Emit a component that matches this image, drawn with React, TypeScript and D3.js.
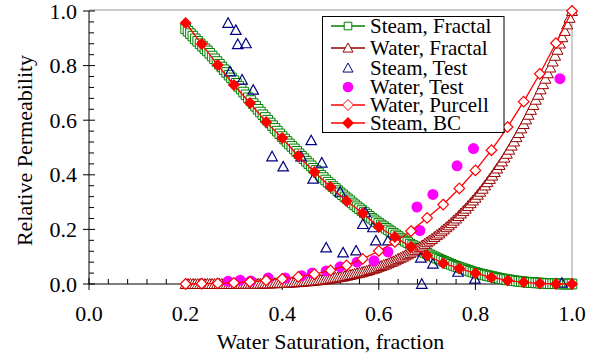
import React from 'react';
import * as d3 from 'd3';

const W = 597;
const H = 357;
const FONT = "'Liberation Serif', 'Times New Roman', serif";

// model curves: water saturation grid 0.2 .. 1.0 every 0.005
const fractalSw = d3.range(161).map(i => 0.2 + i * 0.005);
const steamFractal = [
  0.935, 0.926, 0.917, 0.908, 0.898, 0.889, 0.880, 0.871, 0.862, 0.854,
  0.845, 0.835, 0.825, 0.815, 0.805, 0.795, 0.785, 0.775, 0.765, 0.755,
  0.745, 0.735, 0.724, 0.714, 0.703, 0.693, 0.682, 0.672, 0.661, 0.651,
  0.640, 0.630, 0.620, 0.610, 0.600, 0.590, 0.580, 0.570, 0.560, 0.550,
  0.540, 0.531, 0.522, 0.513, 0.504, 0.495, 0.486, 0.477, 0.468, 0.459,
  0.450, 0.441, 0.433, 0.424, 0.416, 0.407, 0.398, 0.390, 0.381, 0.373,
  0.365, 0.357, 0.350, 0.342, 0.334, 0.327, 0.319, 0.312, 0.305, 0.297,
  0.290, 0.283, 0.276, 0.269, 0.262, 0.255, 0.248, 0.241, 0.235, 0.228,
  0.222, 0.216, 0.210, 0.204, 0.198, 0.192, 0.186, 0.180, 0.174, 0.168,
  0.162, 0.157, 0.152, 0.146, 0.141, 0.136, 0.131, 0.126, 0.121, 0.116,
  0.112, 0.107, 0.103, 0.099, 0.095, 0.091, 0.087, 0.083, 0.079, 0.075,
  0.072, 0.068, 0.065, 0.062, 0.059, 0.056, 0.053, 0.050, 0.047, 0.044,
  0.042, 0.039, 0.037, 0.035, 0.033, 0.031, 0.029, 0.027, 0.025, 0.023,
  0.021, 0.019, 0.018, 0.016, 0.015, 0.013, 0.012, 0.011, 0.010, 0.009,
  0.008, 0.007, 0.006, 0.005, 0.005, 0.004, 0.004, 0.003, 0.003, 0.002,
  0.002, 0.001, 0.001, 0.001, 0.001, 0, 0, 0, 0, 0,
  0,
];
const waterFractal = [
  0, 0, 0, 0, 0, 0, 0, 0, 0, 0,
  0, 0, 0, 0, 0, 0, 0, 0, 0, 0,
  0, 0, 0, 0, 0.001, 0.001, 0.001, 0.001, 0.001, 0.001,
  0.001, 0.001, 0.002, 0.002, 0.002, 0.002, 0.003, 0.003, 0.003, 0.004,
  0.004, 0.004, 0.005, 0.005, 0.006, 0.006, 0.007, 0.007, 0.008, 0.009,
  0.010, 0.010, 0.011, 0.012, 0.013, 0.014, 0.015, 0.016, 0.017, 0.018,
  0.020, 0.021, 0.023, 0.024, 0.026, 0.027, 0.029, 0.031, 0.033, 0.035,
  0.037, 0.039, 0.041, 0.043, 0.046, 0.048, 0.051, 0.054, 0.056, 0.059,
  0.063, 0.066, 0.069, 0.072, 0.076, 0.080, 0.083, 0.087, 0.092, 0.096,
  0.100, 0.105, 0.109, 0.114, 0.119, 0.124, 0.130, 0.135, 0.141, 0.147,
  0.153, 0.159, 0.165, 0.172, 0.179, 0.185, 0.193, 0.200, 0.208, 0.215,
  0.223, 0.232, 0.240, 0.249, 0.258, 0.267, 0.276, 0.286, 0.296, 0.306,
  0.316, 0.327, 0.338, 0.349, 0.361, 0.373, 0.385, 0.397, 0.410, 0.423,
  0.436, 0.449, 0.463, 0.477, 0.492, 0.507, 0.522, 0.538, 0.553, 0.570,
  0.586, 0.603, 0.620, 0.638, 0.656, 0.675, 0.693, 0.713, 0.732, 0.752,
  0.772, 0.793, 0.815, 0.836, 0.858, 0.881, 0.904, 0.927, 0.951, 0.975,
  1.0,
];

// Purcell / Brooks-Corey curves, 1/30 steps
const modelSw = [
  0.2, 0.2333, 0.2667, 0.3, 0.3333, 0.3667, 0.4, 0.4333, 0.4667, 0.5, 0.5333, 0.5667, 0.6,
  0.6333, 0.6667, 0.7, 0.7333, 0.7667, 0.8, 0.8333, 0.8667, 0.9, 0.9333, 0.9667, 1.0,
];
const waterPurcell = [
  0, 0.001, 0.002, 0.004, 0.008, 0.013, 0.019, 0.026, 0.036, 0.050, 0.068, 0.092, 0.121,
  0.154, 0.194, 0.242, 0.291, 0.350, 0.416, 0.490, 0.575, 0.668, 0.770, 0.882, 1.0,
];
const steamBC = [
  0.956, 0.879, 0.802, 0.729, 0.663, 0.593, 0.535, 0.469, 0.410, 0.355, 0.304, 0.259, 0.209,
  0.172, 0.136, 0.104, 0.076, 0.057, 0.039, 0.024, 0.013, 0.006, 0.002, 0, 0,
];

// measured data
const steamTestSw = [
  0.288, 0.304, 0.308, 0.325, 0.292, 0.317, 0.340, 0.379, 0.402, 0.439, 0.460, 0.482, 0.464, 0.520,
  0.491, 0.526, 0.553, 0.572, 0.567, 0.588, 0.594, 0.619, 0.687, 0.712, 0.689, 0.764, 0.799, 0.979,
];
const steamTestKr = [
  0.956, 0.930, 0.878, 0.881, 0.778, 0.748, 0.711, 0.467, 0.430, 0.467, 0.526, 0.444, 0.385, 0.337,
  0.133, 0.115, 0.122, 0.262, 0.219, 0.207, 0.159, 0.159, 0.096, 0.074, 0.0, 0.044, 0.019, 0.004,
];
const waterTestSw = [
  0.288, 0.313, 0.335, 0.371, 0.406, 0.44, 0.462, 0.491, 0.52, 0.555, 0.59, 0.619, 0.685, 0.679,
  0.712, 0.762, 0.796, 0.975,
];
const waterTestKr = [
  0.010, 0.014, 0.011, 0.022, 0.022, 0.030, 0.040, 0.048, 0.063, 0.080, 0.085, 0.118, 0.196, 0.282,
  0.328, 0.433, 0.496, 0.752,
];

const majorTicks = [0, 0.2, 0.4, 0.6, 0.8, 1.0];
const tickLabels = ['0.0', '0.2', '0.4', '0.6', '0.8', '1.0'];
const legendNames = ['Steam, Fractal', 'Water, Fractal', 'Steam, Test', 'Water, Test', 'Water, Purcell', 'Steam, BC'];

const GREEN = '#008000';
const BROWN = '#990000';
const NAVY = '#000080';
const MAGENTA = '#ff00ff';
const RED = '#ff0000';

const x = d3.scaleLinear().domain([0, 1]).range([89, 572]);
const y = d3.scaleLinear().domain([0, 1]).range([284, 11]);

const square = (s: number) => `M${-s},${-s}h${2 * s}v${2 * s}h${-2 * s}Z`;
const triangle = (w: number, h: number) => `M0,${-h * 0.55}L${w / 2},${h * 0.45}L${-w / 2},${h * 0.45}Z`;
const diamond = (r: number) => `M0,${-r}L${r},0L0,${r}L${-r},0Z`;

const curve = (sw: number[], vals: number[]) =>
  d3.line<number>().x((_, i) => x(sw[i])).y(d => y(d))(vals) || '';

export default function App() {
  const minor = d3.range(0, 1.0001, 0.04).filter(v => Math.abs(v / 0.2 - Math.round(v / 0.2)) > 0.01);

  const legendRows = [26, 48, 68, 87, 105, 123];
  const legendSymbol = (i: number) => {
    switch (i) {
      case 0: return <path d={square(3.8)} fill="#fff" stroke={GREEN} />;
      case 1: return <path d={triangle(10, 9)} fill="#fff" stroke={BROWN} />;
      case 2: return <path d={triangle(10, 9)} fill="#fff" stroke={NAVY} />;
      case 3: return <circle r={5.3} fill={MAGENTA} />;
      case 4: return <path d={diamond(5.5)} fill="#fff" stroke={RED} />;
      default: return <path d={diamond(6)} fill={RED} />;
    }
  };
  const legendLine = [GREEN, BROWN, null, null, RED, RED];

  return (
    <svg width={W} height={H} style={{ position: 'fixed', left: 0, top: 0, background: '#fff', fontFamily: FONT }}>
      {/* frame */}
      <path d={`M${x(0)},${y(1) - 1}H${x(1)}V${y(0)}`} fill="none" stroke="#999" />
      {/* axes */}
      <line x1={x(0)} x2={x(0)} y1={y(1)} y2={y(0)} stroke="#000" />
      <line x1={x(0)} x2={x(1)} y1={y(0)} y2={y(0)} stroke="#000" />
      {majorTicks.map((t, i) => (
        <g key={'mt' + i}>
          <line x1={x(0) - 6} x2={x(0) + 6} y1={y(t)} y2={y(t)} stroke="#000" />
          <line x1={x(t)} x2={x(t)} y1={y(0) - 6} y2={y(0) + 6} stroke="#000" />
          <text x={77} y={y(t) + 7.5} textAnchor="end" fontSize={22}>{tickLabels[i]}</text>
          <text x={x(t)} y={321} textAnchor="middle" fontSize={22}>{tickLabels[i]}</text>
        </g>
      ))}
      {minor.map((t, i) => (
        <g key={'mn' + i}>
          <line x1={x(0)} x2={x(0) + 5} y1={y(t)} y2={y(t)} stroke="#000" />
          <line x1={x(t)} x2={x(t)} y1={y(0)} y2={y(0) - 5} stroke="#000" />
        </g>
      ))}
      <text x={x(0.5)} y={349} textAnchor="middle" fontSize={22}>Water Saturation, fraction</text>
      <text transform={`translate(32,${(y(0) + y(1)) / 2 + 3}) rotate(-90)`} textAnchor="middle" fontSize={22}>
        Relative Permeability
      </text>

      {/* Steam, Fractal */}
      <path d={curve(fractalSw, steamFractal)} fill="none" stroke={GREEN} />
      {steamFractal.map((v, i) => (
        <path key={'sf' + i} d={square(4.8)} transform={`translate(${x(fractalSw[i])},${y(v)})`} fill="#fff" stroke={GREEN} strokeWidth={1} />
      ))}
      {/* Water, Fractal */}
      <path d={curve(fractalSw, waterFractal)} fill="none" stroke={BROWN} />
      {waterFractal.map((v, i) => (
        <path key={'wf' + i} d={triangle(11, 10)} transform={`translate(${x(fractalSw[i])},${y(v)})`} fill="#fff" stroke={BROWN} strokeWidth={1} />
      ))}
      {/* Steam, Test */}
      {steamTestSw.map((s, i) => (
        <path key={'st' + i} d={triangle(10.5, 9.5)} transform={`translate(${x(s)},${y(steamTestKr[i])})`} fill="none" stroke={NAVY} strokeWidth={1.2} />
      ))}
      {/* Water, Test */}
      {waterTestSw.map((s, i) => (
        <circle key={'wt' + i} cx={x(s)} cy={y(waterTestKr[i])} r={5.5} fill={MAGENTA} />
      ))}
      {/* Water, Purcell */}
      <path d={curve(modelSw, waterPurcell)} fill="none" stroke={RED} strokeWidth={1.3} />
      {waterPurcell.map((v, i) => (
        <path key={'wp' + i} d={diamond(5.3)} transform={`translate(${x(modelSw[i])},${y(v)})`} fill="#fff" stroke={RED} strokeWidth={1.2} />
      ))}
      {/* Steam, BC */}
      <path d={curve(modelSw, steamBC)} fill="none" stroke={RED} strokeWidth={1.3} />
      {steamBC.map((v, i) => (
        <path key={'bc' + i} d={diamond(6)} transform={`translate(${x(modelSw[i])},${y(v)})`} fill={RED} />
      ))}

      {/* legend */}
      <rect x={322.5} y={16.5} width={181.5} height={116} fill="#fff" stroke="#000" />
      {legendNames.map((name, i) => (
        <g key={'lg' + i} transform={`translate(0,${legendRows[i]})`}>
          {legendLine[i] && <line x1={331} x2={365} y1={0} y2={0} stroke={legendLine[i] as string} strokeWidth={1.3} />}
          <g transform="translate(348,0)">{legendSymbol(i)}</g>
          <text x={370} y={7} fontSize={21}>{name}</text>
        </g>
      ))}
    </svg>
  );
}
